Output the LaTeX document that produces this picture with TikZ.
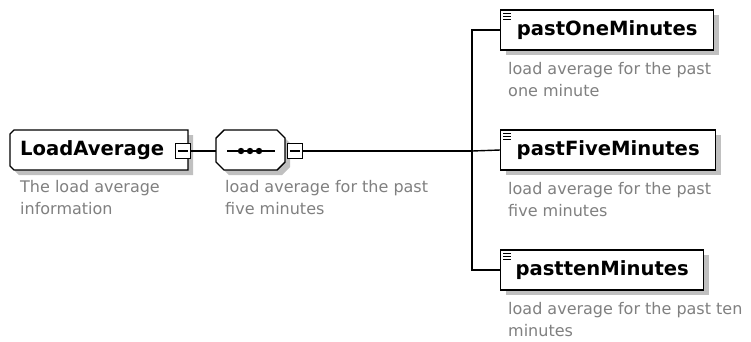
\documentclass[tikz,border=0pt]{standalone}
\usepackage{fontspec}
\setmainfont{DejaVu Sans}
\usetikzlibrary{shadows}
\definecolor{descgray}{RGB}{128,128,128}
\definecolor{shadowgray}{RGB}{192,192,192}
\begin{document}
\begin{tikzpicture}[x=1pt,y=-1pt,
  boxshadow/.style={drop shadow={shadow xshift=5pt,shadow yshift=-5pt,fill=shadowgray,opacity=1}},
  elembox/.style={draw=black,line width=1.4pt,fill=white,rectangle,minimum height=40pt,inner sep=0pt,
    font=\fontsize{19.6}{21}\selectfont\bfseries,boxshadow},
  eltext/.style={inner sep=0pt,font=\fontsize{19.6}{21}\selectfont\bfseries},
  outline/.style={draw=black,line width=1.4pt,fill=white},
  shade/.style={fill=shadowgray},
  desc/.style={anchor=north west,inner sep=0pt,align=left,text=descgray,
    font=\fontsize{16}{22}\selectfont},
  minusbox/.style={draw=black,line width=1.3pt,fill=white,minimum size=15pt,inner sep=0pt,rectangle},
  conn/.style={draw=black,line width=1.4pt},
]
\useasboundingbox (0,0) rectangle (751,341);
\fill[white] (0,0) rectangle (751,341);

% LoadAverage element
\fill[shade] (19,135) -- (193,135) -- (193,175) -- (19,175) -- (15,171) -- (15,139) -- cycle;
\draw[outline] (14,130) -- (188,130) -- (188,170) -- (14,170) -- (10,166) -- (10,134) -- cycle;
\node[anchor=west,eltext] (la) at (20,150) {LoadAverage};
\node[minusbox] (laminus) at (183,151) {};
\draw[line width=1.1pt] ([xshift=3pt]laminus.west) -- ([xshift=-3pt]laminus.east);
\node[desc] (ladesc) at (20,180) {The load average\\information};

% sequence compositor
\fill[shade] (229,135) -- (282,135) -- (290,143) -- (290,167) -- (282,175) -- (229,175) -- (221,167) -- (221,143) -- cycle;
\draw[outline] (224,130) -- (277,130) -- (285,138) -- (285,162) -- (277,170) -- (224,170) -- (216,162) -- (216,138) -- cycle;
\coordinate (seqw) at (216,151);
\node[minusbox] (seqminus) at (295,151) {};
\draw[line width=1.1pt] ([xshift=3pt]seqminus.west) -- ([xshift=-3pt]seqminus.east);
\coordinate (seqa) at (227,151);
\coordinate (seqb) at (275,151);
\draw[line width=1.3pt] (seqa) -- (seqb);
\foreach \dx in {241,250,259} \fill (\dx,151) circle (3.2pt);
\node[desc] (seqdesc) at (225,180) {load average for the past\\five minutes};

% children
\node[elembox,minimum width=213pt,anchor=west] (one) at (500,30) {pastOneMinutes};
\node[desc] (onedesc) at (508,62) {load average for the past\\one minute};
\node[elembox,minimum width=215pt,anchor=west] (five) at (500,150) {pastFiveMinutes};
\node[desc] (fivedesc) at (508,182) {load average for the past\\five minutes};
\node[elembox,minimum width=203pt,anchor=west] (ten) at (500,270) {pasttenMinutes};
\node[desc] (tendesc) at (508,302) {load average for the past ten\\minutes};

% small "simple content" icons
\foreach \n in {one,five,ten}{
  \foreach \dy in {4,7,10}
    \draw[line width=0.9pt] ([xshift=3pt,yshift=-\dy pt]\n.north west) -- ([xshift=11pt,yshift=-\dy pt]\n.north west);
}

% connectors
\coordinate (bus) at (472,151);
\draw[conn] (laminus.east) -- (seqw);
\draw[conn] (seqminus.east) -- (bus);
\draw[conn] (one.west) -| (bus);
\draw[conn] (ten.west) -| (bus);
\draw[conn] (bus) -- (five.west);
\end{tikzpicture}
\end{document}
